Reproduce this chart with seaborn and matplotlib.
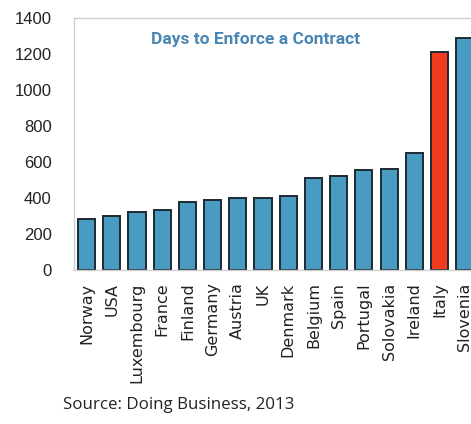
import matplotlib
matplotlib.use("Agg")
import matplotlib.pyplot as plt
import seaborn as sns
import pandas as pd

countries = ["Norway", "USA", "Luxembourg", "France", "Finland", "Germany",
             "Austria", "UK", "Denmark", "Belgium", "Spain", "Portugal",
             "Solovakia", "Ireland", "Italy", "Slovenia"]
days = [283, 302, 322, 333, 380, 390, 398, 398, 409, 513, 524, 554, 563,
        650, 1210, 1290]
highlight = "Italy"

y_ticks = [0, 200, 400, 600, 800, 1000, 1200, 1400]

BLUE = "#4a9bc2"
RED = "#f23c20"
EDGE = "#1c2a33"
TITLE_BLUE = "#4a86b4"

sns.set_theme(style="white")
plt.rcParams["font.family"] = ["DejaVu Sans"]

df = pd.DataFrame({"country": countries, "days": days})
palette = {c: (RED if c == highlight else BLUE) for c in countries}

fig = plt.figure(figsize=(4.71, 4.24), dpi=100)
# plot area runs slightly past the right edge of the canvas
ax = fig.add_axes([74 / 471, 154 / 424, 403.3 / 471, 252 / 424])

sns.barplot(data=df, x="country", y="days", hue="country", palette=palette,
            legend=False, width=0.68, edgecolor=EDGE, linewidth=1.4,
            saturation=1, ax=ax)

ax.set_xlim(-0.5, len(countries) - 0.5)
ax.set_ylim(0, 1400)
ax.set_yticks(y_ticks)
ax.set_yticklabels([str(v) for v in y_ticks], fontsize=12,
                   fontfamily="Liberation Sans", color="#222222")
ax.tick_params(axis="y", direction="in", length=3, color="#c8c8c8",
               pad=16, width=0.8)
ax.tick_params(axis="x", length=0, pad=9)
for lbl in ax.get_xticklabels():
    lbl.set_rotation(90)
    lbl.set_fontsize(11.5)
    lbl.set_color("#222222")
    lbl.set_va("top")

ax.set_xlabel("")
ax.set_ylabel("")

for side in ["left", "bottom", "top"]:
    ax.spines[side].set_color("#cfcfcf")
    ax.spines[side].set_linewidth(1.0)
ax.spines["right"].set_visible(False)

ax.text(0.45, 0.915, "Days to Enforce a Contract", transform=ax.transAxes,
        ha="center", va="center", fontsize=12.5, fontweight="bold",
        color=TITLE_BLUE,
        fontfamily=["Liberation Sans Narrow", "Roboto", "DejaVu Sans"])

fig.text(63 / 471, 1 - 405 / 424, "Source: Doing Business, 2013",
         ha="left", va="center", fontsize=12.2, color="#222222",
         fontfamily=["Open Sans", "DejaVu Sans"])

fig.savefig("out.png", dpi=100)
